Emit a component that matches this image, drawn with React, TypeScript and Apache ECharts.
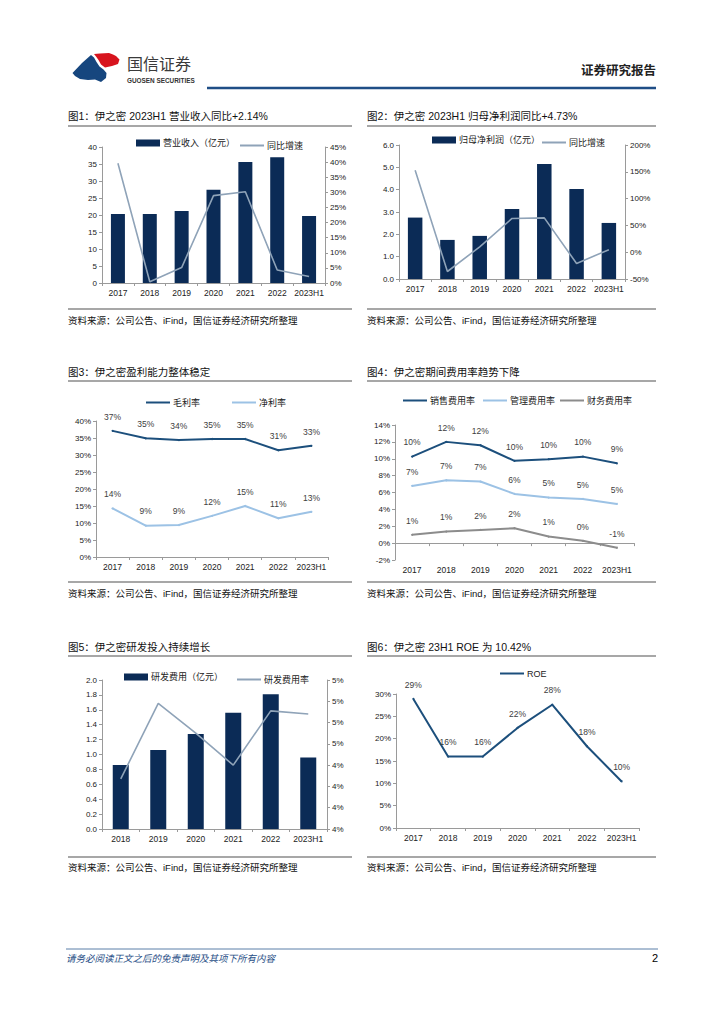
import React, { useEffect, useRef } from "react";
import * as echarts from "echarts";

const FONT = "'Liberation Sans', Arial, 'Noto Sans CJK SC', sans-serif";

const years7 = ["2017", "2018", "2019", "2020", "2021", "2022", "2023H1"];
const years6 = ["2018", "2019", "2020", "2021", "2022", "2023H1"];

const revenue = [20.3, 20.3, 21.2, 27.4, 35.6, 37.0, 19.7];
const revenueYoY = [39.6, 0.4, 5.1, 28.9, 30.2, 4.3, 2.14];
const netProfit = [2.75, 1.75, 1.93, 3.13, 5.15, 4.03, 2.51];
const netProfitYoY = [153, -36, 10, 63, 64, -21, 4.73];
const grossMargin = [37.1, 34.9, 34.4, 34.7, 34.7, 31.4, 32.7];
const netMargin = [14.3, 9.2, 9.4, 12.1, 15.0, 11.4, 13.3];
const sellingRate = [10.25, 12.0, 11.6, 9.75, 9.95, 10.25, 9.46];
const adminRate = [6.78, 7.45, 7.3, 5.83, 5.4, 5.24, 4.65];
const financeRate = [0.98, 1.37, 1.57, 1.77, 0.78, 0.27, -0.55];
const rdExpense = [0.86, 1.06, 1.275, 1.56, 1.81, 0.96];
const rdRate = [4.27, 4.98, 4.7, 4.4, 4.91, 4.88];
const roe = [28.9, 16.0, 16.0, 22.4, 27.6, 18.3, 10.42];

const titles = [
  "图1：伊之密 2023H1 营业收入同比+2.14%",
  "图2：伊之密 2023H1 归母净利润同比+4.73%",
  "图3：伊之密盈利能力整体稳定",
  "图4：伊之密期间费用率趋势下降",
  "图5：伊之密研发投入持续增长",
  "图6：伊之密 23H1 ROE 为 10.42%",
];
const sourceText = "资料来源：公司公告、iFind，国信证券经济研究所整理";

const NAVY = "#0b2b56";
const GREYBLUE = "#8fa3b8";
const DARKBLUE = "#1c4f7c";
const LIGHTBLUE = "#9cc2e5";
const GREY = "#8c8c8c";
const AX = "#9a9a9a";

function catAxis(gridIndex: number, data: string[], onZero = false) {
  return {
    type: "category",
    gridIndex,
    data,
    boundaryGap: true,
    axisLine: { show: true, onZero, lineStyle: { color: AX, width: 1 } },
    axisTick: { show: true, length: 3, lineStyle: { color: AX } },
    axisLabel: { fontSize: 8.5, color: "#222", fontFamily: FONT, margin: 6, interval: 0 },
    splitLine: { show: false },
  };
}

function valAxis(
  gridIndex: number,
  min: number,
  max: number,
  interval: number,
  formatter: any,
  position = "left"
) {
  return {
    type: "value",
    gridIndex,
    min,
    max,
    interval,
    position,
    axisLine: { show: true, lineStyle: { color: AX } },
    axisTick: { show: true, length: 3, lineStyle: { color: AX } },
    axisLabel: { fontSize: 8, color: "#222", fontFamily: FONT, margin: 5, formatter },
    splitLine: { show: false },
  };
}

function legendItem(name: string, x: number, cy: number, color: string, bar: boolean) {
  const h = bar ? 7 : 2;
  return {
    show: true,
    left: x,
    top: cy - h / 2,
    padding: 0,
    itemWidth: 24,
    itemHeight: h,
    itemGap: 0,
    selectedMode: false,
    textStyle: { fontSize: 9, color: "#222", fontFamily: FONT, padding: [0, 0, 0, -2] },
    data: [{ name, icon: "rect", itemStyle: { color, borderWidth: 0 } }],
  };
}

const pctRound = (p: any) => Math.round(p.value) + "%";

function labeledLine(name: string, xi: number, yi: number, data: number[], color: string) {
  return {
    name,
    type: "line",
    xAxisIndex: xi,
    yAxisIndex: yi,
    data,
    symbol: "circle",
    symbolSize: 2,
    showSymbol: true,
    lineStyle: { color, width: 2 },
    itemStyle: { color },
    label: {
      show: true,
      position: "top",
      distance: 9,
      fontSize: 8.5,
      color: "#404040",
      fontFamily: FONT,
      formatter: pctRound,
    },
  };
}

function buildGraphic() {
  const g: any[] = [];
  // logo
  g.push({
    type: "polygon",
    shape: {
      points: [
        [94, 54], [100, 53.5], [109, 53], [113, 54.5], [116, 56], [119.5, 59.5],
        [118, 64], [112, 66], [105, 67.5], [101, 64.5], [98.5, 60], [96, 56.5],
      ],
    },
    style: { fill: "#d7141e" },
  });
  g.push({
    type: "polygon",
    shape: {
      points: [
        [72.5, 73], [82, 63], [91, 55], [94, 57.5], [96.5, 62], [99.5, 66.5],
        [103.5, 69.5], [106.5, 73], [106, 78], [101, 82], [95, 79.5], [88, 80],
        [80, 79], [75, 76],
      ],
    },
    style: { fill: "#16467e" },
  });
  g.push({
    type: "text",
    x: 127,
    y: 64,
    style: {
      text: "国信证券",
      fontSize: 16,
      fontFamily: FONT,
      fill: "#3a3a3a",
      textVerticalAlign: "middle",
    },
  });
  g.push({
    type: "text",
    x: 127,
    y: 80,
    style: {
      text: "GUOSEN SECURITIES",
      fontSize: 6.4,
      fontWeight: "bold",
      fontFamily: FONT,
      fill: "#333",
      textVerticalAlign: "middle",
    },
  });
  g.push({
    type: "text",
    x: 656,
    y: 71,
    style: {
      text: "证券研究报告",
      fontSize: 12.5,
      fontWeight: "bold",
      fontFamily: FONT,
      fill: "#222",
      textAlign: "right",
      textVerticalAlign: "middle",
    },
  });
  g.push({
    type: "line",
    shape: { x1: 207, y1: 88, x2: 656, y2: 88 },
    style: { stroke: "#1f4e86", lineWidth: 2.5 },
  });

  const cols = [
    [68, 352],
    [367, 656],
  ];
  const rows = [
    { t: 116, l: 126, s: 309, st: 320 },
    { t: 372, l: 381, s: 582, st: 593 },
    { t: 647, l: 656, s: 857, st: 867 },
  ];
  for (let r = 0; r < 3; r++) {
    for (let c = 0; c < 2; c++) {
      const [x0, x1] = cols[c];
      const row = rows[r];
      g.push({
        type: "text",
        x: x0,
        y: row.t,
        style: {
          text: titles[r * 2 + c],
          fontSize: 10.5,
          fontFamily: FONT,
          fill: "#111",
          textVerticalAlign: "middle",
        },
      });
      g.push({
        type: "line",
        shape: { x1: x0, y1: row.l, x2: x1, y2: row.l },
        style: { stroke: "#505050", lineWidth: 1.2 },
      });
      g.push({
        type: "line",
        shape: { x1: x0, y1: row.s, x2: x1, y2: row.s },
        style: { stroke: "#505050", lineWidth: 1.2 },
      });
      g.push({
        type: "text",
        x: x0,
        y: row.st,
        style: {
          text: sourceText,
          fontSize: 9.5,
          fontFamily: FONT,
          fill: "#111",
          textVerticalAlign: "middle",
        },
      });
    }
  }
  // footer
  g.push({
    type: "line",
    shape: { x1: 66, y1: 949, x2: 658, y2: 949 },
    style: { stroke: "#5a7fa8", lineWidth: 1 },
  });
  g.push({
    type: "text",
    x: 66,
    y: 958,
    style: {
      text: "请务必阅读正文之后的免责声明及其项下所有内容",
      fontSize: 9.5,
      fontStyle: "italic",
      fontFamily: FONT,
      fill: "#1f4e86",
      textVerticalAlign: "middle",
    },
  });
  g.push({
    type: "text",
    x: 658,
    y: 958,
    style: {
      text: "2",
      fontSize: 11,
      fontFamily: FONT,
      fill: "#000",
      textAlign: "right",
      textVerticalAlign: "middle",
    },
  });
  return g;
}

function buildOption() {
  return {
    animation: false,
    backgroundColor: "#fff",
    textStyle: { fontFamily: FONT },
    grid: [
      { left: 102, top: 147, width: 223, height: 136 },
      { left: 399, top: 145, width: 226, height: 134 },
      { left: 96, top: 421, width: 232, height: 136 },
      { left: 395, top: 425, width: 239, height: 135 },
      { left: 102, top: 680, width: 225, height: 149 },
      { left: 396, top: 694, width: 243, height: 134 },
    ],
    xAxis: [
      catAxis(0, years7),
      catAxis(1, years7),
      catAxis(2, years7),
      catAxis(3, years7, true),
      catAxis(4, years6),
      catAxis(5, years7),
    ],
    yAxis: [
      valAxis(0, 0, 40, 5, "{value}"),
      valAxis(0, 0, 45, 5, "{value}%", "right"),
      valAxis(1, 0, 6, 1, (v: number) => v.toFixed(1)),
      valAxis(1, -50, 200, 50, "{value}%", "right"),
      valAxis(2, 0, 40, 5, "{value}%"),
      valAxis(3, -2, 14, 2, "{value}%"),
      valAxis(4, 0, 2, 0.2, (v: number) => v.toFixed(1)),
      valAxis(4, 3.8, 5.2, 0.2, (v: number) => Math.round(v) + "%", "right"),
      valAxis(5, 0, 30, 5, "{value}%"),
    ],
    legend: [
      legendItem("营业收入（亿元）", 136, 142, NAVY, true),
      legendItem("同比增速", 240, 142, GREYBLUE, false),
      legendItem("归母净利润（亿元）", 432, 139, NAVY, true),
      legendItem("同比增速 ", 542, 139, GREYBLUE, false),
      legendItem("毛利率", 146, 399, DARKBLUE, false),
      legendItem("净利率", 232, 399, LIGHTBLUE, false),
      legendItem("销售费用率", 403, 397, DARKBLUE, false),
      legendItem("管理费用率", 483, 397, LIGHTBLUE, false),
      legendItem("财务费用率", 560, 397, GREY, false),
      legendItem("研发费用（亿元）", 124, 676, NAVY, true),
      legendItem("研发费用率", 237, 676, GREYBLUE, false),
      legendItem("ROE", 500, 670, DARKBLUE, false),
    ],
    graphic: { elements: buildGraphic() },
    series: [
      {
        name: "营业收入（亿元）",
        type: "bar",
        xAxisIndex: 0,
        yAxisIndex: 0,
        data: revenue,
        barWidth: 14,
        itemStyle: { color: NAVY },
      },
      {
        name: "同比增速",
        type: "line",
        xAxisIndex: 0,
        yAxisIndex: 1,
        data: revenueYoY,
        symbol: "none",
        lineStyle: { color: GREYBLUE, width: 1.6 },
        itemStyle: { color: GREYBLUE },
      },
      {
        name: "归母净利润（亿元）",
        type: "bar",
        xAxisIndex: 1,
        yAxisIndex: 2,
        data: netProfit,
        barWidth: 14.5,
        itemStyle: { color: NAVY },
      },
      {
        name: "同比增速 ",
        type: "line",
        xAxisIndex: 1,
        yAxisIndex: 3,
        data: netProfitYoY,
        symbol: "none",
        lineStyle: { color: GREYBLUE, width: 1.6 },
        itemStyle: { color: GREYBLUE },
      },
      labeledLine("毛利率", 2, 4, grossMargin, DARKBLUE),
      labeledLine("净利率", 2, 4, netMargin, LIGHTBLUE),
      labeledLine("销售费用率", 3, 5, sellingRate, DARKBLUE),
      labeledLine("管理费用率", 3, 5, adminRate, LIGHTBLUE),
      labeledLine("财务费用率", 3, 5, financeRate, GREY),
      {
        name: "研发费用（亿元）",
        type: "bar",
        xAxisIndex: 4,
        yAxisIndex: 6,
        data: rdExpense,
        barWidth: 16,
        itemStyle: { color: NAVY },
      },
      {
        name: "研发费用率",
        type: "line",
        xAxisIndex: 4,
        yAxisIndex: 7,
        data: rdRate,
        symbol: "none",
        lineStyle: { color: GREYBLUE, width: 1.6 },
        itemStyle: { color: GREYBLUE },
      },
      labeledLine("ROE", 5, 8, roe, DARKBLUE),
    ],
  };
}

export default function App() {
  const ref = useRef<HTMLDivElement>(null);
  useEffect(() => {
    if (!ref.current) return;
    const chart = echarts.init(ref.current, null, { renderer: "svg", width: 724, height: 1024 });
    chart.setOption(buildOption() as any);
    return () => chart.dispose();
  }, []);
  return (
    <div
      ref={ref}
      style={{ position: "absolute", left: 0, top: 0, width: 724, height: 1024, background: "#fff" }}
    />
  );
}
